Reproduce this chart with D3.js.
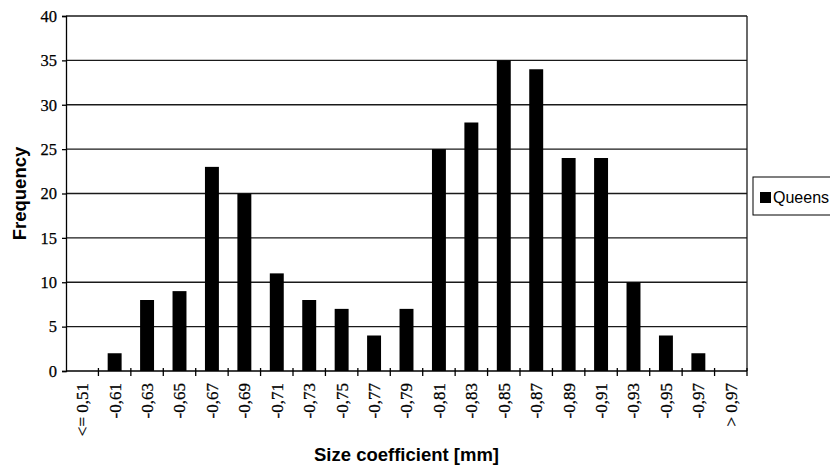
<!DOCTYPE html>
<html>
<head>
<meta charset="utf-8">
<script src="https://cdn.jsdelivr.net/npm/d3@7"></script>
<style>
  body { margin: 0; background: #fff; }
  svg { display: block; }
</style>
</head>
<body>
<svg id="chart"></svg>
<script>
// Data
const categories = ['<= 0,51', '-0,61', '-0,63', '-0,65', '-0,67', '-0,69', '-0,71', '-0,73', '-0,75', '-0,77',
  '-0,79', '-0,81', '-0,83', '-0,85', '-0,87', '-0,89', '-0,91', '-0,93', '-0,95', '-0,97', '> 0,97']
const queens = [0, 2, 8, 9, 23, 20, 11, 8, 7, 4, 7, 25, 28, 35, 34, 24, 24, 10, 4, 2, 0]
const yTicks = [0, 5, 10, 15, 20, 25, 30, 35, 40]
const seriesName = 'Queens'

// Layout
const W = 830, H = 466
const plot = { left: 66, right: 747, top: 16, bottom: 371 }

const svg = d3.select('#chart').attr('width', W).attr('height', H)

// Scales
const x = d3.scaleBand()
  .domain(categories)
  .range([plot.left, plot.right])
  .paddingInner(0.57)
  .paddingOuter(0.285)

// index scale used for the tick marks between categories
const xi = d3.scaleLinear().domain([0, categories.length]).range([plot.left, plot.right])

const y = d3.scaleLinear().domain([0, 40]).range([plot.bottom, plot.top])

// Gridlines
svg.append('g')
  .selectAll('line')
  .data(yTicks.filter(d => d > 0))
  .enter()
  .append('line')
  .attr('x1', plot.left)
  .attr('x2', plot.right)
  .attr('y1', d => y(d))
  .attr('y2', d => y(d))
  .attr('stroke', '#1a1a1a')
  .attr('stroke-width', 1.3)

// Right border
svg.append('line')
  .attr('x1', plot.right).attr('x2', plot.right)
  .attr('y1', y(40)).attr('y2', y(0))
  .attr('stroke', '#1a1a1a')
  .attr('stroke-width', 1.3)

// Bars
svg.selectAll('.bar')
  .data(queens)
  .enter()
  .append('rect')
  .attr('class', 'bar')
  .attr('x', (d, i) => x(categories[i]))
  .attr('y', d => y(d))
  .attr('width', x.bandwidth())
  .attr('height', d => y(0) - y(d))
  .attr('fill', '#000')

// Y axis
const yAxis = svg.append('g')
  .attr('transform', `translate(${plot.left},0)`)
  .call(d3.axisLeft(y).tickValues(yTicks).tickSizeOuter(0).tickSize(4).tickPadding(5))
yAxis.select('.domain').attr('stroke', '#000').attr('stroke-width', 1.3)
yAxis.selectAll('.tick line').attr('stroke', '#000').attr('stroke-width', 1.3)
yAxis.selectAll('.tick text')
  .attr('font-family', '"Liberation Serif", "Times New Roman", serif')
  .attr('font-size', 16.5)
  .attr('stroke', '#000')
  .attr('stroke-width', 0.25)
  .attr('fill', '#000')

// X axis line
svg.append('line')
  .attr('x1', plot.left).attr('x2', plot.right)
  .attr('y1', plot.bottom).attr('y2', plot.bottom)
  .attr('stroke', '#000')
  .attr('stroke-width', 1.3)

// X tick marks between categories (crossing the axis)
svg.append('g')
  .selectAll('line')
  .data(d3.range(1, categories.length + 1))
  .enter()
  .append('line')
  .attr('x1', d => xi(d)).attr('x2', d => xi(d))
  .attr('y1', plot.bottom - 3).attr('y2', plot.bottom + 5)
  .attr('stroke', '#000')
  .attr('stroke-width', 1.3)

// X tick labels, rotated
svg.append('g')
  .selectAll('text')
  .data(categories)
  .enter()
  .append('text')
  .attr('transform', d => `translate(${x(d) + x.bandwidth() / 2},${plot.bottom + 12}) rotate(-90)`)
  .attr('dy', '0.35em')
  .attr('text-anchor', 'end')
  .attr('font-family', '"Liberation Serif", "Times New Roman", serif')
  .attr('font-size', 17)
  .attr('stroke', '#000')
  .attr('stroke-width', 0.25)
  .attr('fill', '#000')
  .text(d => d)

// Axis titles
svg.append('text')
  .attr('transform', `translate(26,${(plot.top + plot.bottom) / 2 + 0}) rotate(-90)`)
  .attr('text-anchor', 'middle')
  .attr('font-family', '"Liberation Sans", Arial, sans-serif')
  .attr('font-weight', 'bold')
  .attr('font-size', 18.5)
  .attr('fill', '#000')
  .text('Frequency')

svg.append('text')
  .attr('x', (plot.left + plot.right) / 2)
  .attr('y', 461)
  .attr('text-anchor', 'middle')
  .attr('font-family', '"Liberation Sans", Arial, sans-serif')
  .attr('font-weight', 'bold')
  .attr('font-size', 18.5)
  .attr('fill', '#000')
  .text('Size coefficient [mm]')

// Legend
const legend = svg.append('g').attr('transform', 'translate(753,177)')
legend.append('rect')
  .attr('x', 0).attr('y', 0)
  .attr('width', 100).attr('height', 38)
  .attr('fill', '#fff')
  .attr('stroke', '#000')
  .attr('stroke-width', 1)
legend.append('rect')
  .attr('x', 7).attr('y', 15)
  .attr('width', 11).attr('height', 11)
  .attr('fill', '#000')
legend.append('text')
  .attr('x', 20).attr('y', 26)
  .attr('font-family', '"Liberation Sans", Arial, sans-serif')
  .attr('font-size', 16)
  .attr('fill', '#000')
  .text(seriesName)
</script>
</body>
</html>
